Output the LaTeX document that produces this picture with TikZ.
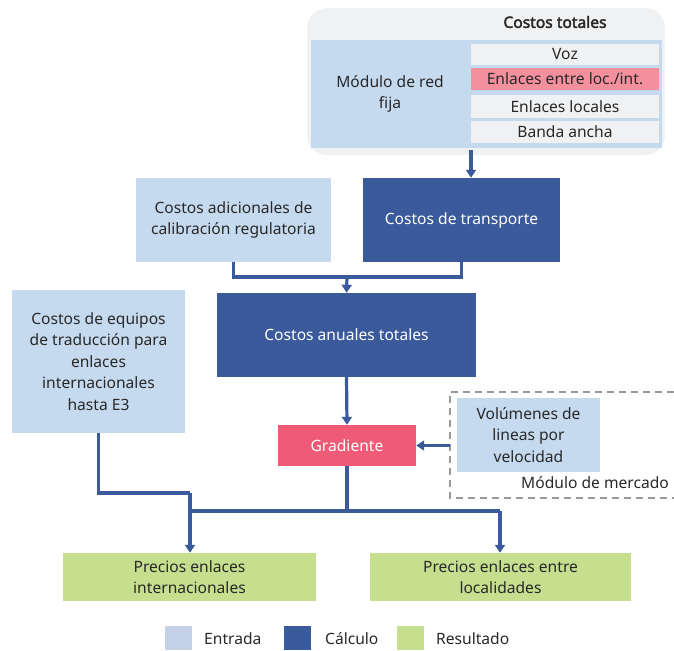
\documentclass[tikz,border=0pt]{standalone}
\usepackage{fontspec}
\setmainfont{Noto Sans}[BoldFont={Noto Sans}, BoldFeatures={FakeBold=2.5}]
\usetikzlibrary{arrows.meta,calc}
\definecolor{inblue}{RGB}{198,218,239}
\definecolor{calblue}{RGB}{58,90,155}
\definecolor{gradpink}{RGB}{239,91,118}
\definecolor{rowpink}{RGB}{244,144,158}
\definecolor{resgreen}{RGB}{197,223,143}
\definecolor{panelgrey}{RGB}{240,241,243}
\definecolor{txt}{RGB}{40,40,40}
\definecolor{legblue}{RGB}{197,209,233}
\tikzset{
  x=1pt,y=-1pt,
  every node/.style={font=\fontsize{15.6}{21.5}\selectfont, text=txt, inner sep=0pt, align=center},
  inbox/.style={fill=inblue, draw=none},
  calbox/.style={fill=calblue, draw=none, text=white},
  resbox/.style={fill=resgreen, draw=none},
  conn/.style={draw=calblue, line width=3.2pt},
  arr/.style={conn, -{Triangle[width=10pt,length=8pt]}},
  legsq/.style={minimum width=27pt, minimum height=24pt},
}
\begin{document}
\begin{tikzpicture}
\useasboundingbox (0,0) rectangle (674,650);
% top panel
\node[fill=panelgrey, rounded corners=20pt, minimum width=358pt, minimum height=147pt] (panel) at (486,81.5) {};
\node[font=\fontsize{15.6}{18}\selectfont\bfseries] (tt) at (555,22) {Costos totales};
\node[inbox, minimum width=158pt, minimum height=107pt] (red) at (390,94) {Módulo de red\\fija};
\node[fill=inblue, minimum width=194pt, minimum height=107pt] (col) at (565,94) {};
\node[fill=panelgrey, minimum width=188pt, minimum height=21pt] (voz) at (565,54.5) {Voz};
\node[fill=rowpink, minimum width=188pt, minimum height=22pt] (eli) at (565,79) {Enlaces entre loc./int.};
\node[fill=panelgrey, minimum width=188pt, minimum height=23pt] (elo) at (565,106.5) {Enlaces locales};
\node[fill=panelgrey, minimum width=188pt, minimum height=22pt] (ban) at (565,132) {Banda ancha};
% second row
\node[inbox, minimum width=195pt, minimum height=84pt] (cal) at (233.5,220) {Costos adicionales de\\calibración regulatoria};
\node[calbox, minimum width=197pt, minimum height=84pt] (tr) at (461.5,220) {Costos de transporte};
\node[calbox, minimum width=259pt, minimum height=84pt] (anu) at (346.5,335) {Costos anuales totales};
\node[inbox, minimum width=173pt, minimum height=143pt] (eq) at (98.5,361.5) {Costos de equipos\\de traducción para\\enlaces\\internacionales\\hasta E3};
\node[fill=gradpink, text=white, minimum width=138pt, minimum height=41pt] (grad) at (347,445.5) {Gradiente};
% market module
\draw[dashed, draw=gray!80, line width=1.3pt, dash pattern=on 7pt off 5pt] (674,392) -- (450,392) -- (450,498) -- (674,498);
\coordinate (mw) at (450,445.5);
\node[inbox, minimum width=143pt, minimum height=74pt] (vol) at (528.5,435) {Volúmenes de\\lineas por\\velocidad};
\node[anchor=east] (mm) at (669,483) {Módulo de mercado};
% results
\node[resbox, minimum width=253pt, minimum height=48pt] (pi) at (189.5,577) {Precios enlaces\\internacionales};
\node[resbox, minimum width=261pt, minimum height=48pt] (pl) at (500.5,577) {Precios enlaces entre\\localidades};
% connectors
\coordinate (a1) at (471,150);
\draw[arr] (a1) -- (a1 |- tr.north);
\coordinate (j1) at (347,277);
\draw[conn] (cal.south) |- (j1) -| (tr.south);
\draw[arr] (j1) -- (anu.north);
\draw[arr] (anu.south) -- (grad.north);
\draw[arr] (mw) -- (grad.east);
\coordinate (j2) at (347,511);
\coordinate (jl) at (190,511);
\coordinate (jr) at (500,511);
\draw[conn] (grad.south) -- (j2);
\draw[conn] (jl) -- (jr);
\draw[arr] (jr) -- (jr |- pl.north);
\coordinate (e1) at (98.5,493);
\coordinate (e2) at (190,493);
\draw[conn] (eq.south) -- (e1) -- (e2);
\draw[arr] (e2) -- (e2 |- pi.north);
% legend
\node[legsq, fill=legblue] (l1) at (178.5,638) {};
\node[anchor=west] (t1) at (204,639) {Entrada};
\node[legsq, fill=calblue] (l2) at (297.5,638) {};
\node[anchor=west] (t2) at (325,639) {Cálculo};
\node[legsq, fill=resgreen] (l3) at (410.5,638) {};
\node[anchor=west] (t3) at (436,639) {Resultado};
\end{tikzpicture}
\end{document}
